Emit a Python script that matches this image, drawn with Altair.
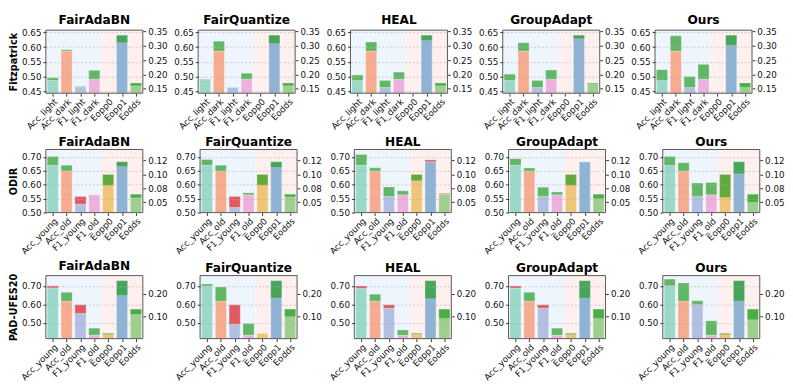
import altair as alt
import pandas as pd

methods = ["FairAdaBN", "FairQuantize", "HEAL", "GroupAdapt", "Ours"]
datasets = ["Fitzpatrick", "ODIR", "PAD-UFES20"]

fitz_metrics = ["Acc_light", "Acc_dark", "F1_light", "F1_dark", "Eopp0", "Eopp1", "Eodds"]
age_metrics = ["Acc_young", "Acc_old", "F1_young", "F1_old", "Eopp0", "Eopp1", "Eodds"]
n_left = 4  # first four metrics on the left axis, the rest on the right axis

# baseline values per metric
fitz_base = [0.488, 0.587, 0.464, 0.492, 0.100, 0.3375, 0.170]
odir_base = [0.670, 0.650, 0.558, 0.564, 0.100, 0.1226, 0.0645]
pad_base = [0.700, 0.617, 0.598, 0.432, 0.028, 0.256, 0.133]

# method values per metric
fitz_vals = {
    "FairAdaBN":    [0.497, 0.591, 0.468, 0.522, 0.100, 0.311, 0.160],
    "FairQuantize": [0.491, 0.620, 0.465, 0.512, 0.100, 0.308, 0.160],
    "HEAL":         [0.506, 0.617, 0.488, 0.516, 0.100, 0.319, 0.160],
    "GroupAdapt":   [0.509, 0.615, 0.488, 0.523, 0.100, 0.325, 0.167],
    "Ours":         [0.524, 0.638, 0.501, 0.542, 0.100, 0.302, 0.155],
}
odir_vals = {
    "FairAdaBN":    [0.702, 0.670, 0.530, 0.564, 0.0800, 0.1140, 0.0580],
    "FairQuantize": [0.691, 0.670, 0.518, 0.571, 0.0805, 0.1124, 0.0597],
    "HEAL":         [0.709, 0.661, 0.592, 0.578, 0.0887, 0.1260, 0.0660],
    "GroupAdapt":   [0.694, 0.660, 0.591, 0.574, 0.0800, 0.1226, 0.0565],
    "Ours":         [0.702, 0.679, 0.606, 0.608, 0.0586, 0.1010, 0.0500],
}
pad_vals = {
    "FairAdaBN":    [0.689, 0.665, 0.550, 0.470, 0.023, 0.192, 0.110],
    "FairQuantize": [0.711, 0.694, 0.490, 0.495, 0.028, 0.181, 0.100],
    "HEAL":         [0.687, 0.655, 0.579, 0.460, 0.024, 0.178, 0.092],
    "GroupAdapt":   [0.688, 0.665, 0.579, 0.470, 0.023, 0.180, 0.092],
    "Ours":         [0.737, 0.716, 0.619, 0.510, 0.023, 0.167, 0.087],
}

# axis domains and ticks per dataset
left_domains = [[0.445, 0.657], [0.50, 0.727], [0.413, 0.756]]
right_domains = [[0.134, 0.355], [0.0317, 0.1446], [0.005, 0.278]]
left_ticks = [[0.45, 0.50, 0.55, 0.60, 0.65], [0.50, 0.55, 0.60, 0.65, 0.70], [0.50, 0.60, 0.70]]
right_ticks = [[0.15, 0.20, 0.25, 0.30, 0.35], [0.05, 0.075, 0.10, 0.125], [0.10, 0.20]]
right_tick_labels = [["0.15", "0.20", "0.25", "0.30", "0.35"], ["0.05", "0.08", "0.10", "0.12"], ["0.10", "0.20"]]

metric_sets = [fitz_metrics, age_metrics, age_metrics]
base_sets = [fitz_base, odir_base, pad_base]
val_sets = [fitz_vals, odir_vals, pad_vals]

pastel = ["#9ad9c7", "#f7ab8f", "#b1bfe2", "#eeb0dd", "#efc577", "#8fb3d5", "#9dcf8f"]
GREEN = "#2ca02c"
RED = "#dc1f2a"
BG_LEFT = "#eef5fd"
BG_RIGHT = "#fdf0ee"

W, H = 100, 65
FONT = "DejaVu Sans"


def js_list(items):
    return "[" + ",".join(repr(s) if isinstance(s, str) else str(s) for s in items) + "]"


def panel(d, m):
    metrics = metric_sets[d]
    base = base_sets[d]
    vals = val_sets[d][methods[m]]
    n = len(metrics)
    rows = []
    for i in range(n):
        left = i < n_left
        v, b = vals[i], base[i]
        lo, hi = min(v, b), max(v, b)
        better = (v > b) if left else (v < b)
        ptop = lo if left else (hi if better else lo)
        rows.append(dict(i=i, xl=i - 0.4, xr=i + 0.4, ptop=ptop, lo=lo, hi=hi,
                         pcol=pastel[i], dcol=GREEN if better else RED,
                         side="L" if left else "R"))
    df = pd.DataFrame(rows)
    bgdf = pd.DataFrame([
        dict(x0=-0.5, x1=n_left - 0.5, c=BG_LEFT),
        dict(x0=n_left - 0.5, x1=n - 0.5, c=BG_RIGHT),
    ])

    xscale = alt.Scale(domain=[-0.5, n - 0.5], nice=False, zero=False)
    xaxis = alt.Axis(values=list(range(n)), labelExpr=js_list(metrics) + "[datum.value]",
                     title=None, labelAngle=315, labelAlign="right", labelBaseline="top",
                     labelFontSize=9, tickSize=3, labelPadding=1, domain=False, grid=False,
                     labelOverlap=False, labelFlush=False, labelBound=False)

    bg = alt.Chart(bgdf).mark_rect().encode(
        x=alt.X("x0:Q", scale=xscale, axis=xaxis), x2="x1",
        y=alt.value(0), y2=alt.value(H),
        color=alt.Color("c:N", scale=None))

    lscale = alt.Scale(domain=left_domains[d], nice=False, zero=False)
    rscale = alt.Scale(domain=right_domains[d], nice=False, zero=False)
    laxis = alt.Axis(orient="left", values=left_ticks[d], format=".2f",
                     title=datasets[d] if m == 0 else None,
                     titleFontSize=10, titleFontWeight="bold", titlePadding=3,
                     grid=True, gridDash=[2, 2], gridColor="#b0b0b0", gridOpacity=0.6,
                     zindex=1, domain=False, tickSize=3, labelPadding=2, labelFontSize=9,
                     labelOverlap=False, labelFlush=False)
    raxis = alt.Axis(orient="right", values=right_ticks[d],
                     labelExpr=js_list(right_tick_labels[d]) + "[indexof(" + js_list(right_ticks[d]) + ", datum.value)]",
                     title=None, grid=False, domain=False, tickSize=3, labelPadding=2,
                     labelFontSize=9, labelOverlap=False, labelFlush=False)

    ldf = df[df.side == "L"]
    rdf = df[df.side == "R"]
    xb = alt.X("xl:Q", scale=xscale, axis=xaxis)

    lp = alt.Chart(ldf).mark_rect(clip=True, stroke="white", strokeWidth=0.5, strokeOpacity=0.7).encode(
        x=xb, x2="xr", y=alt.Y("ptop:Q", scale=lscale, axis=laxis), y2=alt.value(H),
        color=alt.Color("pcol:N", scale=None))
    ld = alt.Chart(ldf).mark_rect(clip=True, opacity=0.72, stroke="white", strokeWidth=0.5, strokeOpacity=0.5).encode(
        x=xb, x2="xr", y=alt.Y("hi:Q", scale=lscale, axis=None), y2="lo:Q",
        color=alt.Color("dcol:N", scale=None))
    rp = alt.Chart(rdf).mark_rect(clip=True, stroke="white", strokeWidth=0.5, strokeOpacity=0.7).encode(
        x=xb, x2="xr", y=alt.Y("ptop:Q", scale=rscale, axis=raxis), y2=alt.value(H),
        color=alt.Color("pcol:N", scale=None))
    rd = alt.Chart(rdf).mark_rect(clip=True, opacity=0.72, stroke="white", strokeWidth=0.5, strokeOpacity=0.5).encode(
        x=xb, x2="xr", y=alt.Y("hi:Q", scale=rscale, axis=None), y2="lo:Q",
        color=alt.Color("dcol:N", scale=None))
    frame = alt.Chart(bgdf.head(1)).mark_rect(filled=False, stroke="#555555", strokeWidth=1).encode(
        x=alt.value(0), x2=alt.value(W), y=alt.value(0), y2=alt.value(H))

    return alt.layer(bg, lp, ld, rp, rd, frame).resolve_scale(y="independent").properties(
        width=W, height=H,
        title=alt.Title(methods[m], fontSize=12.5, fontWeight="bold", offset=1, font=FONT))


rows = []
for d in range(len(datasets)):
    rows.append(alt.hconcat(*[panel(d, m) for m in range(len(methods))], spacing=5))

chart = alt.vconcat(*rows, spacing=4).properties(padding=0).configure(
    font=FONT
).configure_view(stroke=None).configure_axis(
    labelFont=FONT, titleFont=FONT, labelColor="#111111", tickColor="#333333", titleColor="#000000"
)

chart.save("out.html", embed_options={"renderer": "svg", "actions": False})
